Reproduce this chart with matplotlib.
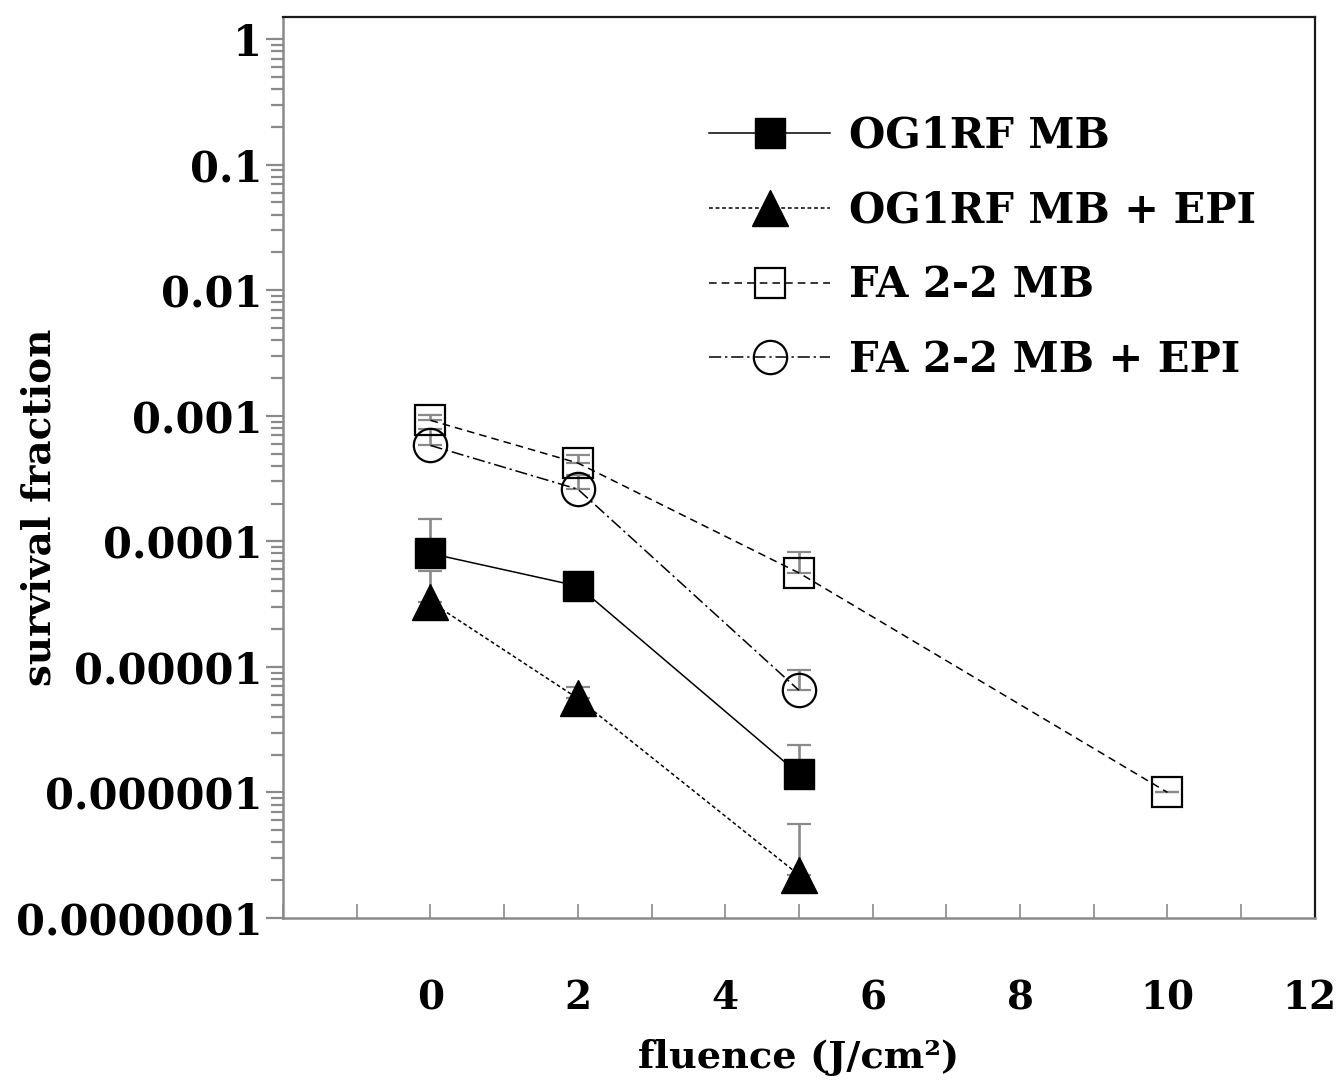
import matplotlib
matplotlib.use("Agg")
import matplotlib.pyplot as plt
from matplotlib.ticker import FixedLocator, FixedFormatter, LogLocator, NullFormatter
from matplotlib.transforms import ScaledTranslation

# ---- data ----
fluence = [0, 2, 5]
fluence_fa = [0, 2, 5, 10]

og_mb = [8.0e-5, 4.4e-5, 1.4e-6]
og_mb_err = [7.0e-5, 0.5e-5, 1.0e-6]

og_mb_epi = [3.3e-5, 5.6e-6, 2.2e-7]
og_mb_epi_err = [2.5e-5, 1.3e-6, 3.4e-7]

fa_mb = [9.2e-4, 4.2e-4, 5.6e-5, 1.0e-6]
fa_mb_err = [1.0e-4, 7.0e-5, 2.6e-5, 0.0]

fa_mb_epi = [5.8e-4, 2.6e-4, 6.5e-6]
fa_mb_epi_err = [2.0e-4, 8.0e-5, 3.0e-6]

labels = ["OG1RF MB", "OG1RF MB + EPI", "FA 2-2 MB", "FA 2-2 MB + EPI"]

ytick_vals = [1, 0.1, 0.01, 0.001, 0.0001, 0.00001, 0.000001, 0.0000001]
ytick_labels = ["1", "0.1", "0.01", "0.001", "0.0001", "0.00001", "0.000001", "0.0000001"]
xtick_vals = [-2, -1, 0, 1, 2, 3, 4, 5, 6, 7, 8, 9, 10, 11, 12]
xtick_labels = ["", "", "0", "", "2", "", "4", "", "6", "", "8", "", "10", "", "12"]

# ---- figure ----
FONT = "DejaVu Serif"
fig = plt.figure(figsize=(13.39, 10.83), dpi=100)
ax = fig.add_axes([0.2114, 0.1524, 0.7706, 0.8319])
ax.set_yscale("log")
ax.set_xlim(-2, 12)
ax.set_ylim(1e-7, 1.5)

gray = "#8a8a8a"
lw = 1.1

series = [
    (fluence, og_mb, og_mb_err, dict(marker="s", ms=22, mfc="black", mec="black", ls="-")),
    (fluence, og_mb_epi, og_mb_epi_err, dict(marker="^", ms=26, mfc="black", mec="black", dashes=(2.5, 1.8))),
    (fluence_fa, fa_mb, fa_mb_err, dict(marker="s", ms=22, mfc="none", mec="black", mew=1.6, dashes=(5, 3.3))),
    (fluence, fa_mb_epi, fa_mb_epi_err, dict(marker="o", ms=24, mfc="none", mec="black", mew=1.6, dashes=(8, 2.5, 1.5, 2.5))),
]

handles = []
for (xs, ys, es, st), lab in zip(series, labels):
    ax.errorbar(xs, ys, yerr=[[0] * len(es), es], fmt="none", ecolor=gray,
                elinewidth=1.9, capsize=8.5, capthick=1.6, zorder=2)
    h, = ax.plot(xs, ys, color="black", lw=lw, label=lab, zorder=3, **st)
    handles.append(h)

# spines
for s in ["left", "bottom"]:
    ax.spines[s].set_color(gray)
    ax.spines[s].set_linewidth(1.8)
for s in ["top", "right"]:
    ax.spines[s].set_color("#1a1a1a")
    ax.spines[s].set_linewidth(1.6)

# y ticks
ax.yaxis.set_major_locator(FixedLocator(ytick_vals))
ax.yaxis.set_major_formatter(FixedFormatter(ytick_labels))
ax.yaxis.set_minor_locator(LogLocator(base=10, subs=range(2, 10), numticks=20))
ax.yaxis.set_minor_formatter(NullFormatter())
ax.tick_params(axis="y", which="major", direction="out", length=12, width=1.6, color=gray, pad=3)
ax.tick_params(axis="y", which="minor", direction="out", length=8.5, width=1.6, color=gray)

# x ticks
ax.xaxis.set_major_locator(FixedLocator(xtick_vals))
ax.xaxis.set_major_formatter(FixedFormatter(xtick_labels))
ax.tick_params(axis="x", which="major", direction="in", length=10, width=1.2, color=gray, pad=44)
ax.tick_params(axis="x", which="minor", length=0)

for t in ax.get_yticklabels():
    t.set_fontfamily(FONT)
    t.set_fontweight("bold")
    t.set_fontsize(30)
xtl = ax.get_xticklabels()
for t in xtl:
    t.set_fontfamily(FONT)
    t.set_fontweight("bold")
    t.set_fontsize(28)
# nudge the last label so it stays inside the figure
xtl[-1].set_transform(xtl[-1].get_transform() + ScaledTranslation(-6 / 100, 0, fig.dpi_scale_trans))

ax.set_xlabel("fluence (J/cm²)", fontfamily=FONT, fontweight="bold", fontsize=27.5, labelpad=16)
ax.set_ylabel("survival fraction", fontfamily=FONT, fontweight="bold", fontsize=28, labelpad=6)
ax.yaxis.set_label_coords(-0.218, 0.456)

leg = ax.legend(handles=handles, loc="upper left", bbox_to_anchor=(0.413, 0.892),
                frameon=False, prop=dict(family=FONT, weight="bold", size=30),
                handlelength=2.9, handletextpad=0.45, labelspacing=0.79, borderpad=0,
                borderaxespad=0)

fig.savefig("out.png", dpi=100)
